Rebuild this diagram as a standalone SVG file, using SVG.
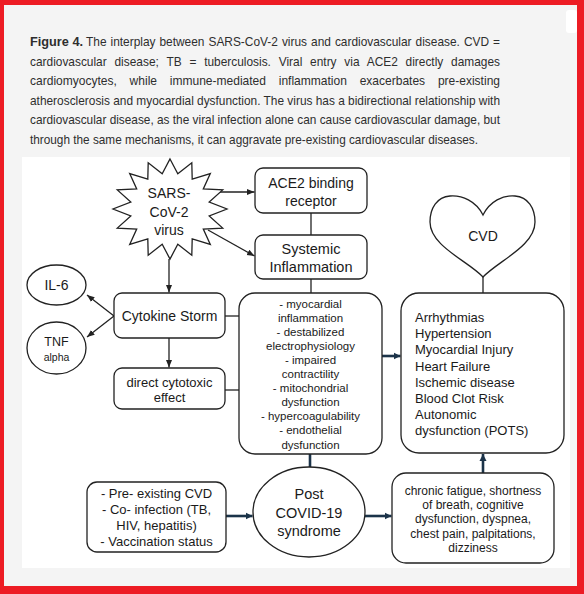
<svg xmlns="http://www.w3.org/2000/svg" width="584" height="594" viewBox="0 0 584 594">
<style>
.cap{font-family:"Liberation Sans",Arial,sans-serif;font-size:13.5px;fill:#2e2e2e}
.t{font-family:"Liberation Sans",Arial,sans-serif;fill:#1a1a1a;text-anchor:middle}
.box{fill:#fff;stroke:#222;stroke-width:1.3}
.ln{stroke:#222;stroke-width:1.3;fill:none}
.nv{stroke:#1b3349;stroke-width:2.6;fill:none}
</style>
<defs>
<marker id="ab" markerUnits="userSpaceOnUse" markerWidth="8" markerHeight="7" refX="7.5" refY="3.5" orient="auto"><path d="M0,0.5 L7.5,3.5 L0,6.5 z" fill="#222"/></marker>
<marker id="an" markerUnits="userSpaceOnUse" markerWidth="8" markerHeight="8" refX="7" refY="4" orient="auto"><path d="M0,0.5 L7,4 L0,7.5 z" fill="#1b3349"/></marker>
</defs>
<rect x="0" y="0" width="584" height="594" fill="#f4f4f4"/>
<rect x="0" y="0" width="584" height="5" fill="#ed1c24"/>
<rect x="0" y="0" width="4" height="594" fill="#ed1c24"/>
<rect x="577" y="0" width="7" height="594" fill="#ed1c24"/>
<rect x="0" y="586" width="584" height="8" fill="#ed1c24"/>
<rect x="566" y="10" width="11" height="23" rx="3" fill="#fff"/>
<rect x="22" y="157" width="548" height="411" fill="#fff"/>

<g id="caption">
<text class="cap" x="30" y="46" textLength="53" lengthAdjust="spacingAndGlyphs" font-weight="bold">Figure 4.</text>
<text class="cap" x="86" y="46" textLength="414" lengthAdjust="spacingAndGlyphs" word-spacing="0.8">The interplay between SARS-CoV-2 virus and cardiovascular disease. CVD =</text>
<text class="cap" x="30" y="65.5" textLength="470" lengthAdjust="spacingAndGlyphs" word-spacing="5.1">cardiovascular disease; TB = tuberculosis. Viral entry via ACE2 directly damages</text>
<text class="cap" x="30" y="85" textLength="470" lengthAdjust="spacingAndGlyphs" word-spacing="10.6">cardiomyocytes, while immune-mediated inflammation exacerbates pre-existing</text>
<text class="cap" x="30" y="104.5" textLength="470" lengthAdjust="spacingAndGlyphs">atherosclerosis and myocardial dysfunction. The virus has a bidirectional relationship with</text>
<text class="cap" x="30" y="124" textLength="470" lengthAdjust="spacingAndGlyphs">cardiovascular disease, as the viral infection alone can cause cardiovascular damage, but</text>
<text class="cap" x="30" y="143.5" textLength="448" lengthAdjust="spacingAndGlyphs">through the same mechanisms, it can aggravate pre-existing cardiovascular diseases.</text>
</g>

<g id="connectors">
<line class="ln" x1="220" y1="192" x2="254.5" y2="192" marker-end="url(#ab)"/>
<line class="ln" x1="208" y1="230" x2="254.5" y2="256" marker-end="url(#ab)"/>
<line class="ln" x1="169" y1="259" x2="169" y2="292.5" marker-end="url(#ab)"/>
<line class="ln" x1="114" y1="316" x2="87" y2="295" marker-end="url(#ab)"/>
<line class="ln" x1="114" y1="316" x2="87" y2="337" marker-end="url(#ab)"/>
<line class="ln" x1="169" y1="338" x2="169" y2="367.5" marker-end="url(#ab)"/>
<line class="ln" x1="311" y1="213" x2="311" y2="235"/>
<line class="ln" x1="311" y1="279" x2="311" y2="293"/>
<line class="ln" x1="225" y1="316" x2="239" y2="316"/>
<line class="ln" x1="225" y1="390" x2="239" y2="390"/>
<line class="ln" x1="483" y1="277" x2="483" y2="293"/>
<line class="nv" x1="382" y1="356" x2="400.5" y2="356" marker-end="url(#an)"/>
<line class="nv" x1="310" y1="454" x2="310" y2="467"/>
<line class="nv" x1="226" y1="516" x2="252.5" y2="516" marker-end="url(#an)"/>
<line class="nv" x1="365" y1="516" x2="391.5" y2="516" marker-end="url(#an)"/>
<line class="nv" x1="483" y1="473" x2="483" y2="454" marker-end="url(#an)"/>
</g>

<g id="virus">
<polygon class="box" points="170,159 177.8,173.7 191.8,162.8 192.2,179.1 210.3,173.6 203.3,189 222.7,189.9 209.2,202 227,209 209.2,216 222.7,228.1 203.3,229 210.3,244.4 192.2,238.9 191.8,255.2 177.8,244.3 170,259 162.2,244.3 148.2,255.2 147.8,238.9 129.7,244.4 136.7,229 117.3,228.1 130.8,216 113,209 130.8,202 117.3,189.9 136.7,189 129.7,173.6 147.8,179.1 148.2,162.8 162.2,173.7"/>
<text class="t" font-size="14" x="169" y="198">SARS-</text>
<text class="t" font-size="14" x="169" y="217">CoV-2</text>
<text class="t" font-size="14" x="169" y="235">virus</text>
</g>

<g id="ace2">
<rect class="box" x="255" y="168" width="112" height="45" rx="8"/>
<text class="t" font-size="14" x="311" y="188">ACE2 binding</text>
<text class="t" font-size="14" x="311" y="206">receptor</text>
</g>

<g id="systemic">
<rect class="box" x="255" y="235" width="112" height="44" rx="8"/>
<text class="t" font-size="14.5" x="311" y="254">Systemic</text>
<text class="t" font-size="14.5" x="311" y="272">Inflammation</text>
</g>

<g id="cytokine">
<rect class="box" x="114" y="293" width="111" height="45" rx="8"/>
<text class="t" font-size="14" x="169.5" y="321">Cytokine Storm</text>
</g>

<g id="il6">
<ellipse class="box" cx="56.5" cy="285" rx="29.5" ry="20"/>
<text class="t" font-size="14" x="56.5" y="290">IL-6</text>
</g>

<g id="tnf">
<ellipse class="box" cx="56.5" cy="348" rx="29.5" ry="26"/>
<text class="t" font-size="12.5" x="56.5" y="345.5">TNF</text>
<text class="t" font-size="10.5" x="56.5" y="361">alpha</text>
</g>

<g id="cytotoxic">
<rect class="box" x="114" y="368" width="111" height="41" rx="8"/>
<text class="t" font-size="13" x="169.5" y="386.5">direct cytotoxic</text>
<text class="t" font-size="13" x="169.5" y="401.5">effect</text>
</g>

<g id="mechanisms">
<rect class="box" x="239" y="293" width="143" height="161" rx="16"/>
<g class="t" font-size="11.5">
<text x="310.5" y="307.5">- myocardial</text>
<text x="310.5" y="321.6">inflammation</text>
<text x="310.5" y="335.7">- destabilized</text>
<text x="310.5" y="349.8">electrophysiology</text>
<text x="310.5" y="363.9">- impaired</text>
<text x="310.5" y="378">contractility</text>
<text x="310.5" y="392.1">- mitochondrial</text>
<text x="310.5" y="406.2">dysfunction</text>
<text x="310.5" y="420.3">- hypercoagulability</text>
<text x="310.5" y="434.4">- endothelial</text>
<text x="310.5" y="448.5">dysfunction</text>
</g>
</g>

<g id="cvd">
<path class="box" d="M483,215 C476,201 462,195 450,196 C437,197 430,208 430,222 C430,246 468,261 483,277 C498,261 535,246 535,222 C535,208 528,197 515,196 C503,195 490,201 483,215 Z"/>
<text class="t" font-size="14" x="483" y="241">CVD</text>
</g>

<g id="outcomes">
<rect class="box" x="401" y="293" width="163" height="160" rx="18"/>
<g font-family="Liberation Sans, Arial, sans-serif" font-size="13" fill="#1a1a1a">
<text x="415" y="322">Arrhythmias</text>
<text x="415" y="338.2">Hypertension</text>
<text x="415" y="354.4">Myocardial Injury</text>
<text x="415" y="370.6">Heart Failure</text>
<text x="415" y="386.8">Ischemic disease</text>
<text x="415" y="403">Blood Clot Risk</text>
<text x="415" y="419.2">Autonomic</text>
<text x="415" y="435.4">dysfunction (POTS)</text>
</g>
</g>

<g id="symptoms">
<rect class="box" x="392" y="473" width="162" height="90" rx="14"/>
<g class="t" font-size="12">
<text x="473" y="495">chronic fatigue, shortness</text>
<text x="473" y="509.2">of breath, cognitive</text>
<text x="473" y="523.4">dysfunction, dyspnea,</text>
<text x="473" y="537.6">chest pain, palpitations,</text>
<text x="473" y="551.8">dizziness</text>
</g>
</g>

<g id="postcovid">
<ellipse class="box" cx="309" cy="512" rx="56" ry="45"/>
<text class="t" font-size="14.5" x="309" y="499">Post</text>
<text class="t" font-size="14.5" x="309" y="518">COVID-19</text>
<text class="t" font-size="14.5" x="309" y="536">syndrome</text>
</g>

<g id="risk">
<rect class="box" x="87" y="482" width="139" height="70" rx="10"/>
<g class="t" font-size="13">
<text x="156.5" y="497.5">- Pre- existing CVD</text>
<text x="156.5" y="513.5">- Co- infection (TB,</text>
<text x="156.5" y="529.5">HIV, hepatitis)</text>
<text x="156.5" y="545.5">- Vaccination status</text>
</g>
</g>
</svg>
